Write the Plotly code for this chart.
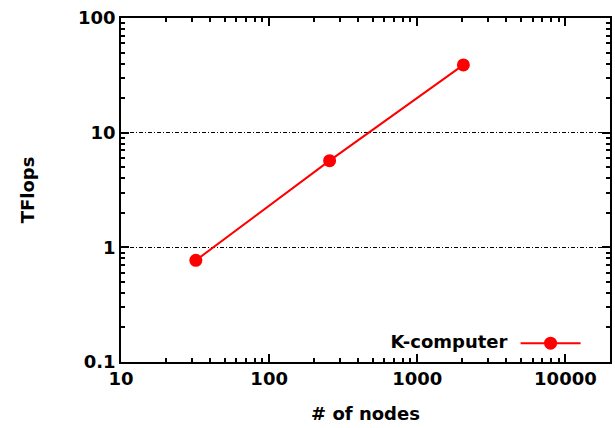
import plotly.graph_objects as go
import math

nodes = [32, 256, 2048]
tflops = [0.77, 5.7, 39.0]
series_name = "K-computer"
x_tick_vals = [10, 100, 1000, 10000]
x_tick_text = ["10", "100", "1000", "10000"]
y_tick_vals = [0.1, 1, 10, 100]
y_tick_text = ["0.1", "1", "10", "100"]

FONT = dict(family="DejaVu Sans", size=18, color="black", weight="bold")


def minor_vals(lo_exp, hi_exp):
    return [k * 10 ** e for e in range(lo_exp, hi_exp) for k in range(2, 10)]


fig = go.Figure()
fig.add_trace(go.Scatter(
    x=nodes, y=tflops, mode="lines+markers", name="",
    line=dict(color="#ff0000", width=2),
    marker=dict(color="#ff0000", size=13, symbol="circle"),
    showlegend=True,
))

axis_common = dict(
    type="log", showline=True, linecolor="black", linewidth=1.5, mirror="allticks",
    ticks="inside", ticklen=8, tickwidth=1.5, tickcolor="black",
    tickfont=FONT, zeroline=False, automargin=False,
)

fig.update_xaxes(
    **axis_common,
    range=[1, math.log10(20000)],
    tickmode="array", tickvals=x_tick_vals, ticktext=x_tick_text,
    minor=dict(tickmode="array", tickvals=minor_vals(1, 5), ticks="inside", ticklen=4,
               tickcolor="black", tickwidth=1.5, showgrid=False),
    showgrid=False,
    title=dict(text="# of nodes", font=FONT, standoff=19),
)
fig.update_yaxes(
    **axis_common,
    range=[-1, 2],
    tickmode="array", tickvals=y_tick_vals, ticktext=y_tick_text,
    minor=dict(tickmode="array", tickvals=minor_vals(-1, 2), ticks="inside", ticklen=4,
               tickcolor="black", tickwidth=1.5, showgrid=False),
    showgrid=True, gridcolor="black", gridwidth=1, griddash="4px,2px,1px,2px",
    title=dict(text="TFlops", font=FONT, standoff=39),
)

fig.update_layout(
    width=615, height=428,
    margin=dict(l=121, r=5, t=18, b=66),
    paper_bgcolor="white", plot_bgcolor="white",
    font=FONT,
    legend=dict(
        x=0.962, y=0.0, xanchor="right", yanchor="bottom",
        bgcolor="rgba(0,0,0,0)", borderwidth=0,
        title=dict(text=series_name, side="left", font=FONT),
        itemwidth=60, font=FONT,
    ),
)

fig.write_html("out.html", config={"displayModeBar": False},
               post_script="document.body.style.margin='0';")
